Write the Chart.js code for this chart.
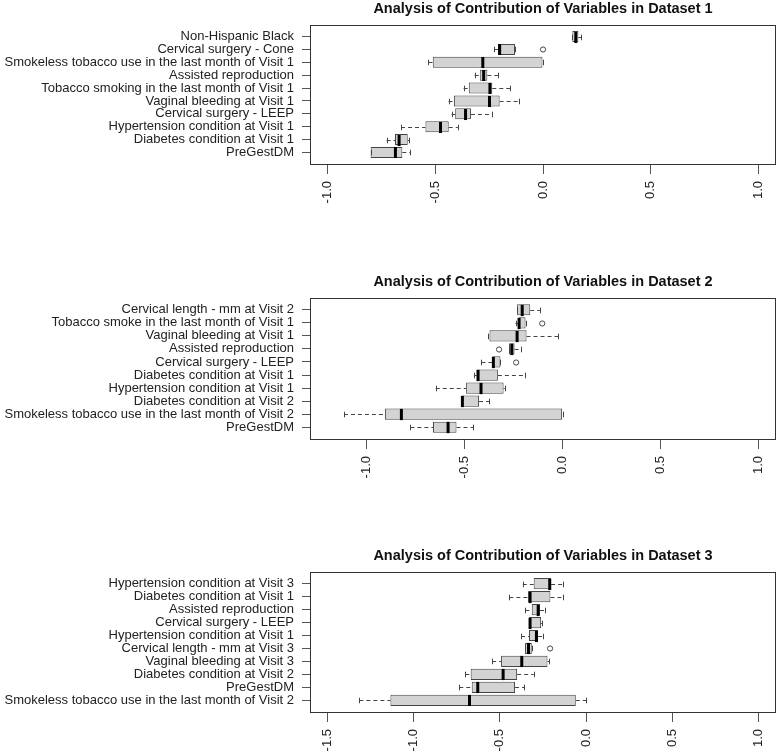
<!DOCTYPE html>
<html>
<head>
<meta charset="utf-8">
<script src="https://cdn.jsdelivr.net/npm/chart.js@4.4.1/dist/chart.umd.min.js"></script>
<style>
  html, body { margin: 0; padding: 0; background: #fff; overflow: hidden; }
  #wrap { position: relative; width: 778px; height: 754px; }
  canvas { position: absolute; left: 0; }
</style>
</head>
<body>
<div id="wrap">
  <canvas id="p1" width="778" height="206" style="top:0px;width:778px;height:206px"></canvas>
  <canvas id="p2" width="778" height="208" style="top:273px;width:778px;height:208px"></canvas>
  <canvas id="p3" width="778" height="207" style="top:547px;width:778px;height:207px"></canvas>
</div>
<script>
// --- data (rows listed top to bottom, as drawn) ---
const labels1 = ["Non-Hispanic Black", "Cervical surgery - Cone",
  "Smokeless tobacco use in the last month of Visit 1", "Assisted reproduction",
  "Tobacco smoking in the last month of Visit 1", "Vaginal bleeding at Visit 1",
  "Cervical surgery - LEEP", "Hypertension condition at Visit 1",
  "Diabetes condition at Visit 1", "PreGestDM"];
const lo1  = [0.133, -0.227, -0.531, -0.317, -0.368, -0.438, -0.424, -0.658, -0.725, -0.799];
const q1_1 = [0.136, -0.209, -0.511, -0.293, -0.344, -0.413, -0.407, -0.545, -0.686, -0.799];
const med1 = [0.152, -0.201, -0.279, -0.275, -0.246, -0.248, -0.359, -0.475, -0.667, -0.684];
const q3_1 = [0.164, -0.130, 0.0, -0.258, -0.235, -0.201, -0.334, -0.437, -0.627, -0.652];
const hi1  = [0.178, -0.130, 0.0, -0.209, -0.151, -0.110, -0.235, -0.395, -0.621, -0.616];
const outRow1 = [2];
const outVal1 = [0.0];

const labels2 = ["Cervical length - mm at Visit 2", "Tobacco smoke in the last month of Visit 1",
  "Vaginal bleeding at Visit 1", "Assisted reproduction", "Cervical surgery - LEEP",
  "Diabetes condition at Visit 1", "Hypertension condition at Visit 1",
  "Diabetes condition at Visit 2", "Smokeless tobacco use in the last month of Visit 2",
  "PreGestDM"];
const lo2  = [-0.235, -0.240, -0.378, -0.273, -0.414, -0.451, -0.647, -0.514, -1.115, -0.776];
const q1_2 = [-0.232, -0.225, -0.373, -0.273, -0.359, -0.439, -0.492, -0.514, -0.906, -0.661];
const med2 = [-0.206, -0.222, -0.232, -0.259, -0.353, -0.431, -0.416, -0.511, -0.822, -0.584];
const q3_2 = [-0.165, -0.189, -0.184, -0.245, -0.317, -0.330, -0.301, -0.426, 0.0, -0.541];
const hi2  = [-0.116, -0.189, -0.022, -0.213, -0.317, -0.194, -0.295, -0.375, 0.0, -0.456];
const outRow2 = [2, 4, 5];
const outVal2 = [-0.104, -0.324, -0.237];

const labels3 = ["Hypertension condition at Visit 3", "Diabetes condition at Visit 1",
  "Assisted reproduction", "Cervical surgery - LEEP", "Hypertension condition at Visit 1",
  "Cervical length - mm at Visit 3", "Vaginal bleeding at Visit 3",
  "Diabetes condition at Visit 2", "PreGestDM",
  "Smokeless tobacco use in the last month of Visit 2"];
const lo3  = [-0.367, -0.445, -0.352, -0.331, -0.377, -0.354, -0.545, -0.700, -0.735, -1.314];
const q1_3 = [-0.304, -0.336, -0.315, -0.331, -0.331, -0.354, -0.493, -0.669, -0.663, -1.134];
const med3 = [-0.211, -0.325, -0.278, -0.325, -0.288, -0.334, -0.373, -0.481, -0.628, -0.676];
const q3_3 = [-0.203, -0.207, -0.267, -0.261, -0.278, -0.315, -0.224, -0.400, -0.412, -0.060];
const hi3  = [-0.132, -0.132, -0.238, -0.255, -0.248, -0.315, -0.213, -0.304, -0.358, 0.0];
const outRow3 = [6];
const outVal3 = [-0.209];

const xTicks12 = [-1.0, -0.5, 0.0, 0.5, 1.0];
const xTicks3 = [-1.5, -1.0, -0.5, 0.0, 0.5, 1.0];

// --- look ---
const FONT = "'Liberation Sans', Arial, sans-serif";
const TEXT = "#222";
const LINE = "#444";
Chart.defaults.font.family = FONT;

// whiskers, staples, medians, outliers and frame, placed with the chart's scales
function boxDetails(p) {
  return {
    id: "boxDetails",
    afterDatasetsDraw(chart) {
      const { ctx, chartArea: a, scales: { x, y } } = chart;
      const bars = chart.getDatasetMeta(0).data;
      ctx.save();
      ctx.strokeStyle = LINE;
      ctx.lineWidth = 1;
      p.q1.forEach((q1, i) => {
        const yc = Math.round(y.getPixelForValue(i + 1)) + 0.5;
        const h = bars[i].height;
        const xl = x.getPixelForValue(p.lo[i]);
        const xa = x.getPixelForValue(q1);
        const xb = x.getPixelForValue(p.q3[i]);
        const xh = x.getPixelForValue(p.hi[i]);
        ctx.setLineDash([4, 3]);
        ctx.beginPath();
        if (xa - xl > 1) { ctx.moveTo(xl, yc); ctx.lineTo(xa, yc); }
        if (xh - xb > 1) { ctx.moveTo(xb, yc); ctx.lineTo(xh, yc); }
        ctx.stroke();
        ctx.setLineDash([]);
        ctx.beginPath();
        ctx.moveTo(Math.round(xl) + 0.5, yc - h / 4);
        ctx.lineTo(Math.round(xl) + 0.5, yc + h / 4);
        ctx.moveTo(Math.round(xh) + 0.5, yc - h / 4);
        ctx.lineTo(Math.round(xh) + 0.5, yc + h / 4);
        ctx.stroke();
        ctx.save();
        ctx.strokeStyle = "#000";
        ctx.lineWidth = 3;
        const xm = x.getPixelForValue(p.med[i]);
        ctx.beginPath();
        ctx.moveTo(xm, yc - h / 2);
        ctx.lineTo(xm, yc + h / 2);
        ctx.stroke();
        ctx.restore();
      });
      p.outRow.forEach((r, k) => {
        ctx.beginPath();
        ctx.arc(x.getPixelForValue(p.outVal[k]), Math.round(y.getPixelForValue(r)) + 0.5, 2.6, 0, Math.PI * 2);
        ctx.stroke();
      });
      ctx.strokeStyle = "#333";
      ctx.strokeRect(Math.round(a.left) + 0.5, Math.round(a.top) + 0.5,
        Math.round(a.right - a.left) - 1, Math.round(a.bottom - a.top));
      ctx.restore();
    },
  };
}

function makePanel(id, title, p) {
  const n = p.labels.length;
  const rows = p.labels.map((_, i) => i + 1);
  return new Chart(document.getElementById(id), {
    type: "bar",
    data: {
      datasets: [{
        data: rows.map((r, i) => ({ y: r, x: [p.q1[i], p.q3[i]] })),
        backgroundColor: "#d3d3d3",
        borderColor: LINE,
        borderWidth: 1,
        borderSkipped: false,
        barPercentage: 0.86,
        categoryPercentage: 1,
      }],
    },
    options: {
      indexAxis: "y",
      responsive: false,
      animation: false,
      events: [],
      layout: { padding: { left: 0, right: 2, top: 0, bottom: 0 } },
      plugins: {
        legend: { display: false },
        tooltip: { enabled: false },
        title: {
          display: true,
          text: title,
          fullSize: false,
          color: "#111",
          font: { family: FONT, size: 14.5, weight: "bold" },
          padding: { top: 0, bottom: 7.6 },
        },
      },
      scales: {
        x: {
          type: "linear",
          min: p.xMin,
          max: p.xMax,
          bounds: "data",
          afterBuildTicks: (ax) => { ax.ticks = p.xTicks.map((v) => ({ value: v })); },
          afterFit: (ax) => { ax.height = 42; ax.paddingLeft = 0; ax.paddingRight = 0; },
          border: { display: false },
          grid: { drawOnChartArea: false, drawTicks: true, tickLength: 10, color: "#555" },
          ticks: {
            autoSkip: false,
            minRotation: 90,
            maxRotation: 90,
            padding: 7,
            color: TEXT,
            font: { family: FONT, size: 13 },
            callback: (v) => Number(v).toFixed(1),
          },
        },
        y: {
          type: "linear",
          reverse: true,
          offset: false,
          min: 0.1,
          max: n + 0.9,
          bounds: "data",
          afterBuildTicks: (ax) => { ax.ticks = rows.map((v) => ({ value: v })); },
          afterFit: (ax) => { ax.width = 310; ax.paddingTop = 0; ax.paddingBottom = 0; },
          border: { display: false },
          grid: { offset: false, drawOnChartArea: false, drawTicks: true, tickLength: 8, color: "#555" },
          ticks: {
            autoSkip: false,
            padding: 8,
            color: TEXT,
            font: { family: FONT, size: 13 },
            callback: (v) => p.labels[Math.round(v) - 1],
          },
        },
      },
    },
    plugins: [boxDetails(p)],
  });
}

document.addEventListener("DOMContentLoaded", () => {
  makePanel("p1", "Analysis of Contribution of Variables in Dataset 1", {
    labels: labels1, lo: lo1, q1: q1_1, med: med1, q3: q3_1, hi: hi1,
    outRow: outRow1, outVal: outVal1, xTicks: xTicks12, xMin: -1.08, xMax: 1.08,
  });
  makePanel("p2", "Analysis of Contribution of Variables in Dataset 2", {
    labels: labels2, lo: lo2, q1: q1_2, med: med2, q3: q3_2, hi: hi2,
    outRow: outRow2, outVal: outVal2, xTicks: xTicks12, xMin: -1.288, xMax: 1.088,
  });
  makePanel("p3", "Analysis of Contribution of Variables in Dataset 3", {
    labels: labels3, lo: lo3, q1: q1_3, med: med3, q3: q3_3, hi: hi3,
    outRow: outRow3, outVal: outVal3, xTicks: xTicks3, xMin: -1.6, xMax: 1.1,
  });
});
</script>
</body>
</html>
